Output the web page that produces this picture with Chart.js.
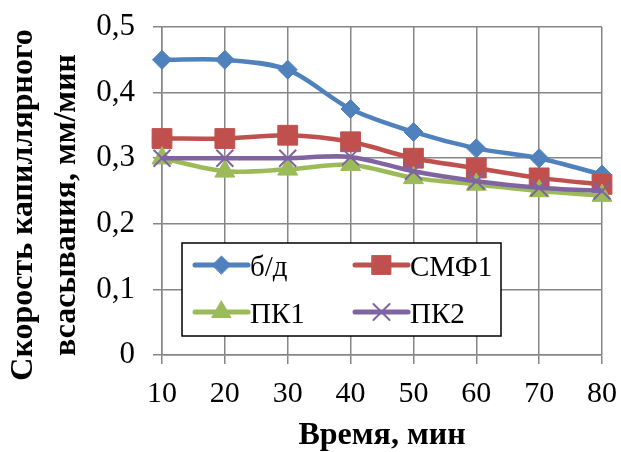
<!DOCTYPE html>
<html><head><meta charset="utf-8">
<script src="https://cdn.jsdelivr.net/npm/chart.js@4"></script>
<style>html,body{margin:0;padding:0;background:#fff;}#wrap{width:621px;height:452px;position:relative;}</style>
</head><body><div id="wrap"><canvas id="c" width="621" height="452"></canvas></div>
<script>
const categories = ['10','20','30','40','50','60','70','80'];
const seriesNames = ['б/д','СМФ1','ПК1','ПК2'];
const bd   = [0.45, 0.45, 0.435, 0.375, 0.34, 0.315, 0.30, 0.275];
const smf1 = [0.33, 0.33, 0.335, 0.325, 0.30, 0.285, 0.27, 0.26];
const pk1  = [0.30, 0.28, 0.283, 0.29, 0.27, 0.26, 0.25, 0.243];
const pk2  = [0.30, 0.30, 0.30, 0.302, 0.28, 0.265, 0.255, 0.25];
const yTicks = [0, 0.1, 0.2, 0.3, 0.4, 0.5];
const xTitle = 'Время, мин';
const yTitle = ['Скорость капиллярного', 'всасывания, мм/мин'];

const colors = ['#4F81BD', '#C0504D', '#9BBB59', '#8064A2'];
const styles = ['rectRot', 'rect', 'triangle', 'crossRot'];
const radii = [9.5, 14, 11.5, 12];
const values = [bd, smf1, pk1, pk2];
const FONT = "'Liberation Serif', 'Times New Roman', serif";
const GRID = '#868686';

const datasets = values.map((v, i) => ({
  label: seriesNames[i],
  data: v,
  borderColor: colors[i],
  backgroundColor: colors[i],
  borderWidth: 4.5,
  pointStyle: styles[i],
  pointRadius: radii[i],
  pointBorderWidth: styles[i] === 'crossRot' ? 2 : 1,
  pointBorderColor: colors[i],
  pointBackgroundColor: colors[i],
  tension: 0.3,
  fill: false,
  order: 4 - i
}));

const yTitlePlugin = {
  id: 'yTitle',
  afterDraw(chart) {
    const ctx = chart.ctx;
    const ca = chart.chartArea;
    ctx.save();
    ctx.fillStyle = '#000';
    ctx.font = 'bold 32px ' + FONT;
    ctx.textAlign = 'center';
    ctx.textBaseline = 'middle';
    const cy = (ca.top + ca.bottom) / 2 + 14;
    const xs = [24, 67];
    yTitle.forEach((t, i) => {
      ctx.save();
      ctx.translate(xs[i], cy);
      ctx.rotate(-Math.PI / 2);
      ctx.fillText(t, 0, 0);
      ctx.restore();
    });
    ctx.restore();
  }
};

const legendPlugin = {
  id: 'boxLegend',
  afterDraw(chart) {
    const ctx = chart.ctx;
    const ca = chart.chartArea;
    const bx = ca.left + 20, by = ca.top + 216, bw = 319, bh = 93;
    ctx.save();
    ctx.fillStyle = '#fff';
    ctx.fillRect(bx, by, bw, bh);
    ctx.strokeStyle = '#000';
    ctx.lineWidth = 1.5;
    ctx.strokeRect(bx, by, bw, bh);
    const rows = [by + 22, by + 69];
    const cols = [bx + 13, bx + 173];
    for (let i = 0; i < 4; i++) {
      const x0 = cols[i % 2], y0 = rows[Math.floor(i / 2)];
      ctx.strokeStyle = colors[i];
      ctx.lineWidth = 5;
      ctx.lineCap = 'round';
      ctx.beginPath();
      ctx.moveTo(x0, y0);
      ctx.lineTo(x0 + 53, y0);
      ctx.stroke();
      ctx.fillStyle = colors[i];
      ctx.lineWidth = styles[i] === 'crossRot' ? 2 : 1;
      Chart.helpers.drawPoint(ctx, {pointStyle: styles[i], radius: radii[i] * 0.95, rotation: 0, borderWidth: ctx.lineWidth}, x0 + 26.5, y0);
      ctx.fillStyle = '#000';
      ctx.font = '29px ' + FONT;
      ctx.textBaseline = 'alphabetic';
      ctx.textAlign = 'left';
      ctx.fillText(seriesNames[i], x0 + 55, y0 + 11);
    }
    ctx.restore();
  }
};

new Chart(document.getElementById('c'), {
  type: 'line',
  data: { labels: categories, datasets },
  plugins: [legendPlugin, yTitlePlugin],
  options: {
    responsive: false,
    animation: false,
    devicePixelRatio: 1,
    layout: { padding: { top: 27, right: 19, bottom: 0, left: 0 } },
    plugins: { legend: { display: false }, tooltip: { enabled: false } },
    scales: {
      x: {
        type: 'category',
        offset: false,
        grid: { color: GRID, lineWidth: 1.5, tickLength: 9, drawTicks: true, tickColor: GRID },
        border: { color: GRID, width: 1.5 },
        ticks: { color: '#000', font: { family: FONT, size: 30, lineHeight: 1.73 }, padding: 4, maxRotation: 0 },
        title: { display: true, text: xTitle, color: '#000', font: { family: FONT, size: 32, weight: 'bold', lineHeight: 1 }, padding: { top: 0, bottom: 0 } },
        afterFit(s) { s.height = 97; }
      },
      y: {
        min: 0, max: 0.5,
        afterBuildTicks(s) { s.ticks = yTicks.map(v => ({ value: v })); },
        grid: { color: GRID, lineWidth: 1.5, tickLength: 9, drawTicks: true, tickColor: GRID },
        border: { color: GRID, width: 1.5 },
        ticks: {
          color: '#000', font: { family: FONT, size: 31, lineHeight: 0.5 }, padding: 18,
          callback: v => v === 0 ? '0' : v.toFixed(1).replace('.', ',')
        },
        title: { display: false },
        afterFit(s) { s.width = 162; }
      }
    }
  }
});
</script></body></html>
